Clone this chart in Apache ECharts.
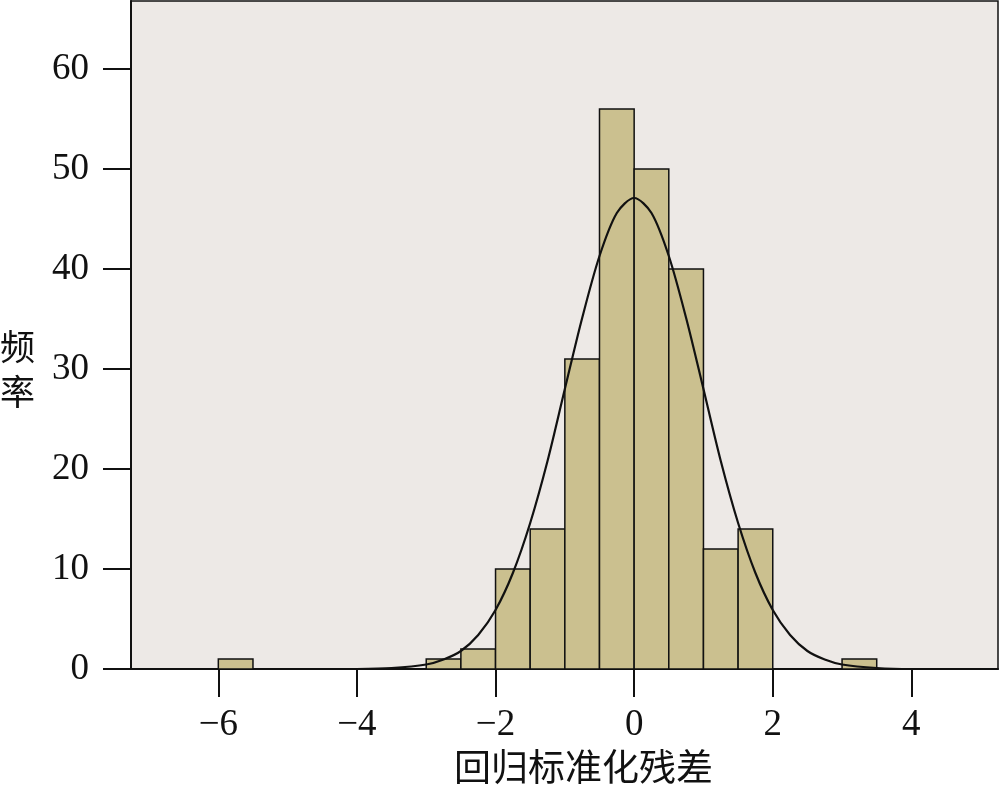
<!DOCTYPE html>
<html>
<head>
<meta charset="utf-8">
<script src="https://cdn.jsdelivr.net/npm/echarts@6/dist/echarts.min.js"></script>
<style>
  html, body { margin: 0; padding: 0; background: #fff; }
  #chart { width: 1000px; height: 789px; }
</style>
</head>
<body>
<div id="chart"></div>
<script>
// histogram bins: [start, end] and counts
const binStarts = [-6, -3, -2.5, -2, -1.5, -1, -0.5, 0, 0.5, 1, 1.5, 3];
const binWidth = 0.5;
const binCounts = [1, 1, 2, 10, 14, 31, 56, 50, 40, 12, 14, 1];

// normal curve
const curveX = [-4, -3.5, -3, -2.75, -2.5, -2.25, -2, -1.75, -1.5, -1.25, -1, -0.75, -0.5, -0.25,
  0, 0.25, 0.5, 0.75, 1, 1.25, 1.5, 1.75, 2, 2.25, 2.5, 2.75, 3, 3.5, 4, 5];
const curveY = [0, 0.1, 0.45, 0.95, 1.8, 3.4, 5.9, 9.6, 14.6, 20.8, 28.0, 35.1, 41.3, 45.6,
  47.1, 45.6, 41.3, 35.1, 28.0, 20.8, 14.6, 9.6, 5.9, 3.4, 1.8, 0.95, 0.45, 0.1, 0, 0];

const xTicks = [-6, -4, -2, 0, 2, 4];
const yTicks = [0, 10, 20, 30, 40, 50, 60];

const serif = "'Liberation Serif', 'Times New Roman', serif";
const cjk = "'Noto Sans CJK SC', sans-serif";

const chart = echarts.init(document.getElementById("chart"));

const option = {
  animation: false,
  grid: {
    left: 131,
    right: 2,
    top: 1,
    bottom: 120,
    outerBoundsMode: "none",
    containLabel: false,
    show: true,
    backgroundColor: "#ede9e6",
    borderColor: "#111",
    borderWidth: 1.5,
  },
  xAxis: {
    type: "value",
    min: -7.26,
    max: 5.25,
    name: "回归标准化残差",
    nameLocation: "middle",
    nameGap: 78,
    nameTextStyle: {
      fontFamily: cjk,
      fontSize: 37,
      color: "#111",
      padding: [0, 0, 0, 38],
    },
    splitLine: { show: false },
    axisLine: { show: true, onZero: false, lineStyle: { color: "#111", width: 2 } },
    axisTick: {
      show: true,
      length: 28,
      customValues: xTicks,
      lineStyle: { color: "#111", width: 2 },
    },
    axisLabel: {
      customValues: xTicks,
      margin: 38,
      fontFamily: serif,
      fontSize: 37,
      color: "#111",
      formatter: (v) => String(v).replace("-", "\u2212"),
    },
  },
  yAxis: {
    type: "value",
    min: 0,
    max: 66.8,
    name: "{g|}\n{c|频}\n{c|率}",
    nameLocation: "middle",
    nameRotate: 0,
    nameGap: 96,
    nameTextStyle: {
      fontFamily: cjk,
      fontSize: 35,
      color: "#111",
      rich: {
        g: { height: 69 },
        c: { fontFamily: cjk, fontSize: 35, color: "#111", lineHeight: 45 },
      },
    },
    splitLine: { show: false },
    axisLine: { show: true, onZero: false, lineStyle: { color: "#111", width: 2 } },
    axisTick: {
      show: true,
      length: 28,
      customValues: yTicks,
      lineStyle: { color: "#111", width: 2 },
    },
    axisLabel: {
      customValues: yTicks,
      margin: 42,
      fontFamily: serif,
      fontSize: 37,
      color: "#111",
    },
  },
  series: [
    {
      type: "custom",
      data: binStarts.map((s, i) => [s, s + binWidth, binCounts[i]]),
      renderItem: (params, api) => {
        const p0 = api.coord([api.value(0), 0]);
        const p1 = api.coord([api.value(1), api.value(2)]);
        return {
          type: "rect",
          shape: { x: p0[0], y: p1[1], width: p1[0] - p0[0], height: p0[1] - p1[1] },
          style: { fill: "#cbc08f", stroke: "#111", lineWidth: 1.5 },
        };
      },
      z: 2,
    },
    {
      type: "line",
      data: curveX.map((x, i) => [x, curveY[i]]),
      smooth: 0.3,
      showSymbol: false,
      lineStyle: { color: "#111", width: 2.2 },
      z: 3,
    },
  ],
};

chart.setOption(option);
</script>
</body>
</html>
